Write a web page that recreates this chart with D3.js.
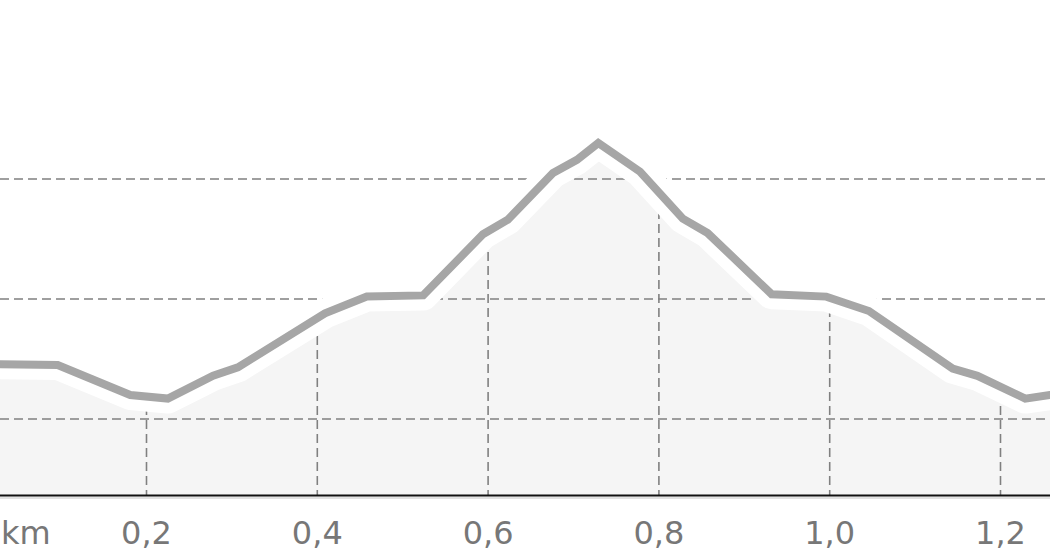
<!DOCTYPE html>
<html>
<head>
<meta charset="utf-8">
<script src="https://cdnjs.cloudflare.com/ajax/libs/d3/7.8.5/d3.min.js"></script>
<style>
  html, body { margin: 0; padding: 0; background: #fff; overflow: hidden; }
  svg { display: block; }
</style>
</head>
<body>
<div id="chart"></div>
<script>
//--------------------------Data-----------------------------
var distanceKm = [0, 0.096, 0.181, 0.225, 0.278, 0.307, 0.409, 0.458, 0.524, 0.594, 0.623, 0.676,
    0.704, 0.729, 0.778, 0.828, 0.857, 0.932, 0.996, 1.046, 1.144, 1.173, 1.229, 1.258, 1.275];
var elevationM = [274.6, 274.5, 272.0, 271.7, 273.6, 274.3, 278.8, 280.2, 280.3, 285.4, 286.6, 290.5,
    291.6, 293.0, 290.6, 286.7, 285.5, 280.4, 280.2, 279.0, 274.2, 273.6, 271.7, 272.0, 272.2];
var xTicks = [0.2, 0.4, 0.6, 0.8, 1.0, 1.2];
var yTicks = [270, 280, 290];
var unitLabel = "km";

var points = distanceKm.map(function (d, i) {
    return {dist: d, ele: elevationM[i]};
});

//--------------------------Initialize Values-----------------------------
var width = 1050,
        height = 560,
        axisY = 495.5;

var x = d3.scaleLinear().domain([0.2, 1.2]).range([146.5, 1000.5]);
var y = d3.scaleLinear().domain([270, 290]).range([419, 179]);

var svg = d3.select("#chart")
        .append("svg")
        .attr("width", width)
        .attr("height", height);

var line = d3.line()
        .x(function (d) { return x(d.dist); })
        .y(function (d) { return y(d.ele); });

var area = d3.area()
        .x(function (d) { return x(d.dist); })
        .y0(axisY + 3)
        .y1(function (d) { return y(d.ele); });

// clip for vertical grid, only below the profile
svg.append("defs")
        .append("clipPath")
        .attr("id", "underProfile")
        .append("path")
        .attr("d", area(points));

//area fill
svg.append("path")
        .attr("d", area(points))
        .style("fill", "#f5f5f5");

//horizontal grid
svg.append("g")
        .selectAll("line")
        .data(yTicks)
        .enter()
        .append("line")
        .attr("x1", 0)
        .attr("x2", width)
        .attr("y1", function (d) { return y(d); })
        .attr("y2", function (d) { return y(d); })
        .style("stroke", "#808080")
        .style("stroke-width", 1.6)
        .style("stroke-dasharray", "9,5");

//vertical grid
svg.append("g")
        .attr("clip-path", "url(#underProfile)")
        .selectAll("line")
        .data(xTicks)
        .enter()
        .append("line")
        .attr("x1", function (d) { return x(d); })
        .attr("x2", function (d) { return x(d); })
        .attr("y1", 0)
        .attr("y2", axisY)
        .style("stroke", "#808080")
        .style("stroke-width", 1.6)
        .style("stroke-dasharray", "9,5");

//white halo round the profile
svg.append("path")
        .attr("d", line(points))
        .style("fill", "none")
        .style("stroke", "#fff")
        .style("stroke-width", 30)
        .style("stroke-linejoin", "round");

//profile line
svg.append("path")
        .attr("d", line(points))
        .style("fill", "none")
        .style("stroke", "#a6a6a6")
        .style("stroke-width", 8)
        .style("stroke-linejoin", "miter");

//x axis
svg.append("line")
        .attr("x1", 0)
        .attr("x2", width)
        .attr("y1", axisY + 2.5)
        .attr("y2", axisY + 2.5)
        .style("stroke", "#e2e2e2")
        .style("stroke-width", 2);

svg.append("line")
        .attr("x1", 0)
        .attr("x2", width)
        .attr("y1", axisY)
        .attr("y2", axisY)
        .style("stroke", "#111")
        .style("stroke-width", 2);

svg.append("g")
        .selectAll("text")
        .data(xTicks)
        .enter()
        .append("text")
        .attr("x", function (d) { return x(d); })
        .attr("y", 544)
        .attr("text-anchor", "middle")
        .style("font-family", '"DejaVu Sans"')
        .style("font-size", "32px")
        .style("fill", "#777")
        .text(function (d) { return d3.format(".1f")(d).replace(".", ","); });

svg.append("text")
        .attr("x", 1)
        .attr("y", 544)
        .style("font-family", '"DejaVu Sans"')
        .style("font-size", "32px")
        .style("fill", "#777")
        .text(unitLabel);
</script>
</body>
</html>
